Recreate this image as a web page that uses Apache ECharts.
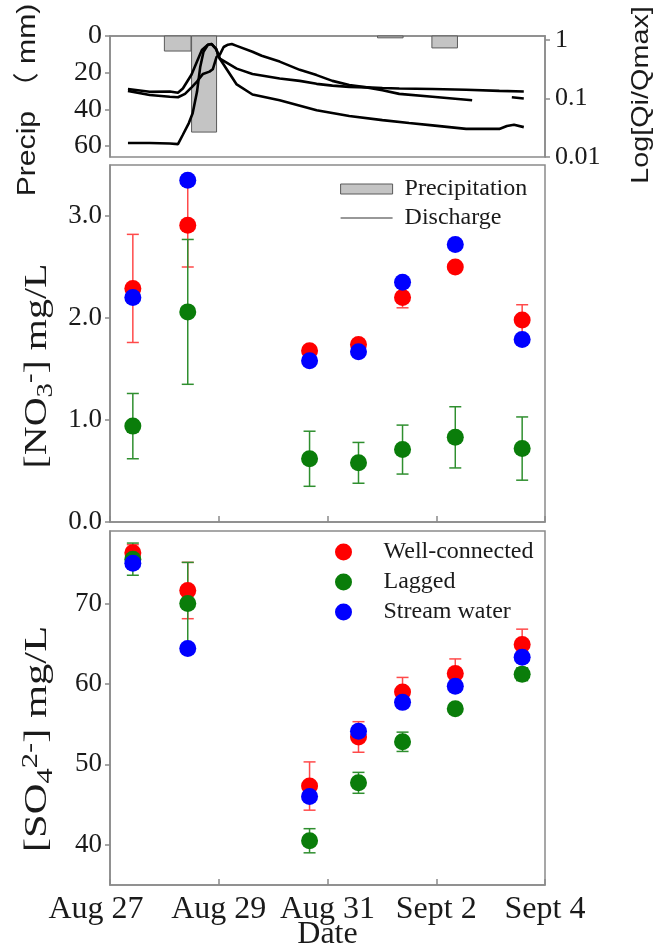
<!DOCTYPE html>
<html>
<head>
<meta charset="utf-8">
<script src="https://cdn.jsdelivr.net/npm/echarts@6/dist/echarts.min.js"></script>
<style>
  html, body { margin: 0; padding: 0; background: #fff; }
  #chart { width: 654px; height: 949px; }
</style>
</head>
<body>
<div id="chart"></div>
<script>
// ---- data (time in days after Aug 27 00:00) ----
const sampleDays = [0.42, 1.43, 3.67, 4.57, 5.38, 6.35, 7.58];
const dateTickLabels = ['Aug 27', 'Aug 29', 'Aug 31', 'Sept 2', 'Sept 4'];

// nitrate, mg/L
const no3Well = [2.29, 2.91, 1.68, 1.74, 2.20, 2.50, 1.98];
const no3WellErr = [0.53, 0.41, 0.04, 0.04, 0.10, 0.04, 0.15];
const no3Lagged = [0.94, 2.06, 0.62, 0.58, 0.71, 0.83, 0.72];
const no3LaggedErr = [0.32, 0.71, 0.27, 0.20, 0.24, 0.30, 0.31];
const no3Stream = [2.20, 3.35, 1.58, 1.67, 2.35, 2.72, 1.79];

// sulfate, mg/L
const so4Well = [76.3, 71.6, 47.3, 53.4, 59.0, 61.3, 64.9];
const so4WellErr = [1.0, 3.5, 3.0, 1.9, 1.8, 1.8, 1.9];
const so4Lagged = [75.5, 70.0, 40.5, 47.7, 52.8, 56.9, 61.2];
const so4LaggedErr = [2.0, 5.1, 1.5, 1.3, 1.2, 0.6, 0.8];
const so4Stream = [75.0, 64.4, 46.0, 54.1, 57.7, 59.7, 63.3];

// precipitation totals per interval, mm
const precipStart = [1.00, 1.50, 4.92, 5.92];
const precipEnd = [1.49, 1.96, 5.39, 6.39];
const precipMm = [8.2, 52.4, 1.0, 6.5];

// normalised discharge Qi/Qmax, [day, ratio]
const dischargeA = [
  [0.33, 0.0174], [0.73, 0.0174], [1.10, 0.0170], [1.25, 0.0166], [1.34, 0.024],
  [1.45, 0.038], [1.52, 0.056], [1.60, 0.13], [1.66, 0.35], [1.72, 0.63],
  [1.80, 0.83], [1.87, 0.851], [1.95, 0.708], [2.02, 0.479], [2.33, 0.174],
  [2.62, 0.117], [3.12, 0.0933], [3.80, 0.0631], [4.40, 0.0501], [5.01, 0.0427],
  [5.50, 0.038], [5.93, 0.0347], [6.55, 0.0302], [7.16, 0.0302], [7.30, 0.0339],
  [7.43, 0.0355], [7.61, 0.0324]
];
const dischargeB = [
  [0.33, 0.145], [0.73, 0.130], [1.10, 0.132], [1.25, 0.125], [1.34, 0.148],
  [1.50, 0.257], [1.60, 0.427], [1.69, 0.676], [1.80, 0.832], [1.87, 0.851],
  [1.95, 0.708], [2.02, 0.479], [2.33, 0.324], [2.62, 0.263], [3.12, 0.219],
  [3.49, 0.200], [3.80, 0.178], [4.09, 0.166], [4.40, 0.158], [4.72, 0.155],
  [5.01, 0.151], [5.32, 0.148], [5.93, 0.145], [6.55, 0.141], [7.16, 0.135],
  [7.61, 0.132]
];
const dischargeC = [
  [0.33, 0.135], [0.73, 0.115], [1.10, 0.107], [1.25, 0.105], [1.38, 0.120],
  [1.50, 0.155], [1.60, 0.195], [1.71, 0.263], [1.83, 0.288], [1.89, 0.316],
  [1.96, 0.513], [2.02, 0.562], [2.09, 0.759], [2.17, 0.832], [2.24, 0.851],
  [2.33, 0.794], [2.62, 0.631], [2.79, 0.537], [3.12, 0.427], [3.49, 0.309],
  [3.80, 0.251], [4.09, 0.200], [4.40, 0.170], [4.72, 0.155], [5.01, 0.138],
  [5.32, 0.120], [5.93, 0.107], [6.66, 0.0933], [7.00, null], [7.39, 0.105],
  [7.61, 0.100]
];

// ---- styling ----
const SERIF = "'Liberation Serif', 'DejaVu Serif', serif";
const SANS = "'Liberation Sans', Arial, 'Noto Sans CJK SC', sans-serif";
const FRAME = '#8a8a8a';
const INK = '#1a1a1a';
const RED = '#ff0000', GREEN = '#0a7d0a', BLUE = '#0000ff';
const RED_BAR = '#ff4a4a', GREEN_BAR = '#2f8f2f';

const chart = echarts.init(document.getElementById('chart'));

function pairs(values) {
  return sampleDays.map((d, i) => [d, values[i]]);
}

// vertical error bar with caps, built from the axis coordinate system
function errorBars(name, values, errs, color, axisIdx) {
  return {
    type: 'custom',
    name: name,
    xAxisIndex: axisIdx,
    yAxisIndex: axisIdx + 1,
    silent: true,
    z: 1,
    encode: { x: 0, y: [1, 2] },
    data: sampleDays.map((d, i) => [d, values[i] - errs[i], values[i] + errs[i]]),
    renderItem(params, api) {
      const lo = api.coord([api.value(0), api.value(1)]);
      const hi = api.coord([api.value(0), api.value(2)]);
      const hw = 6;
      const style = { stroke: color, lineWidth: 1.5 };
      return {
        type: 'group',
        children: [
          { type: 'line', shape: { x1: lo[0], y1: lo[1], x2: hi[0], y2: hi[1] }, style },
          { type: 'line', shape: { x1: lo[0] - hw, y1: lo[1], x2: lo[0] + hw, y2: lo[1] }, style },
          { type: 'line', shape: { x1: hi[0] - hw, y1: hi[1], x2: hi[0] + hw, y2: hi[1] }, style }
        ]
      };
    }
  };
}

function points(name, values, color, axisIdx) {
  return {
    type: 'scatter',
    name: name,
    xAxisIndex: axisIdx,
    yAxisIndex: axisIdx + 1,
    symbol: 'circle',
    symbolSize: 17,
    z: 2,
    itemStyle: { color: color, opacity: 1 },
    data: pairs(values)
  };
}

function dischargeLine(data) {
  return {
    type: 'line',
    name: 'Discharge',
    xAxisIndex: 0,
    yAxisIndex: 1,
    symbol: 'none',
    connectNulls: false,
    itemStyle: { color: '#000' },
    lineStyle: { color: '#000', width: 2.6 },
    z: 3,
    data: data
  };
}

const frameLine = { show: true, lineStyle: { color: FRAME, width: 1.5 } };
const gridBase = {
  left: 110, right: 109, show: true, borderColor: FRAME, borderWidth: 1.5,
  backgroundColor: 'transparent', containLabel: false, outerBoundsMode: 'none'
};
const innerTick = { show: true, inside: true, length: 6, lineStyle: { color: FRAME, width: 1.5 } };

const option = {
  animation: false,
  backgroundColor: '#fff',
  grid: [
    Object.assign({ top: 36, height: 121 }, gridBase),
    Object.assign({ top: 165, height: 357 }, gridBase),
    Object.assign({ top: 531, height: 354 }, gridBase)
  ],
  xAxis: [
    { type: 'value', gridIndex: 0, min: 0, max: 8, interval: 2,
      axisLine: frameLine, axisTick: { show: false }, axisLabel: { show: false }, splitLine: { show: false } },
    { type: 'value', gridIndex: 1, min: 0, max: 8, interval: 2,
      axisLine: frameLine, axisTick: innerTick, axisLabel: { show: false }, splitLine: { show: false } },
    { type: 'value', gridIndex: 2, min: 0, max: 8, interval: 2,
      axisLine: frameLine, axisTick: innerTick,
      axisLabel: {
        show: true, margin: 9, color: INK, fontFamily: SERIF, fontSize: 32,
        formatter: v => {
          const label = dateTickLabels[Math.round(v / 2)];
          return v === 0 ? '{first|' + label + '}' : label;
        },
        rich: { first: { fontFamily: SERIF, fontSize: 32, color: INK, padding: [0, 28, 0, 0] } }
      },
      splitLine: { show: false },
      name: 'Date', nameLocation: 'middle', nameGap: 34, nameMoveOverlap: false,
      nameTextStyle: { color: INK, fontFamily: SERIF, fontSize: 32 } }
  ],
  yAxis: [
    { type: 'value', gridIndex: 0, inverse: true, min: 0, max: 66, position: 'left',
      axisLine: frameLine,
      axisTick: { show: true, length: 5, lineStyle: { color: FRAME, width: 1.5 }, customValues: [0, 20, 40, 60] },
      axisLabel: { margin: 8, color: INK, fontFamily: SERIF, fontSize: 28, customValues: [0, 20, 40, 60] },
      splitLine: { show: false } },
    { type: 'log', logBase: 10, gridIndex: 0, min: 0.01, max: 1.17, position: 'right',
      axisLine: frameLine,
      axisTick: { show: true, length: 5, lineStyle: { color: FRAME, width: 1.5 } },
      axisLabel: { margin: 10, color: INK, fontFamily: SERIF, fontSize: 26, showMaxLabel: false,
        formatter: v => String(+v.toPrecision(2)) },
      splitLine: { show: false } },
    { type: 'value', gridIndex: 1, min: 0, max: 3.5, position: 'left',
      axisLine: frameLine,
      axisTick: { show: true, length: 5, lineStyle: { color: FRAME, width: 1.5 }, customValues: [0, 1, 2, 3] },
      axisLabel: { margin: 8, color: INK, fontFamily: SERIF, fontSize: 27,
        customValues: [0, 1, 2, 3], formatter: v => v.toFixed(1) },
      splitLine: { show: false } },
    { type: 'value', gridIndex: 2, min: 35, max: 79, position: 'left',
      axisLine: frameLine,
      axisTick: { show: true, length: 5, lineStyle: { color: FRAME, width: 1.5 }, customValues: [40, 50, 60, 70] },
      axisLabel: { margin: 8, color: INK, fontFamily: SERIF, fontSize: 27, customValues: [40, 50, 60, 70] },
      splitLine: { show: false } }
  ],
  legend: [
    {
      orient: 'vertical', left: 335, top: 172, itemWidth: 52, itemHeight: 10, itemGap: 5,
      selectedMode: false,
      textStyle: { fontFamily: SERIF, fontSize: 24, color: INK, padding: [0, 0, 0, 7] },
      data: [
        { name: 'Precipitation', icon: 'rect', itemStyle: { color: '#c4c4c4', borderColor: '#5a5a5a', borderWidth: 1 } },
        { name: 'Discharge', itemStyle: { color: 'rgba(0,0,0,0)', borderColor: 'rgba(0,0,0,0)', borderWidth: 0 },
          lineStyle: { color: '#333', width: 1.2 } }
      ]
    },
    {
      orient: 'vertical', left: 330, top: 535, itemWidth: 70, itemHeight: 17, itemGap: 6,
      selectedMode: false,
      textStyle: { fontFamily: SERIF, fontSize: 24, color: INK },
      data: ['Well-connected', 'Lagged', 'Stream water']
    }
  ],
  graphic: [
    { type: 'text', x: 28, y: 100, rotation: Math.PI / 2, scaleX: 1.16,
      style: { text: 'Precip （ mm)', fontFamily: SANS, fontSize: 26, fill: INK,
        align: 'center', verticalAlign: 'middle', textAlign: 'center', textVerticalAlign: 'middle' } },
    { type: 'text', x: 641, y: 95, rotation: Math.PI / 2, scaleX: 1.2,
      style: { text: 'Log[Qi/Qmax]', fontFamily: SANS, fontSize: 24, fill: INK,
        align: 'center', verticalAlign: 'middle', textAlign: 'center', textVerticalAlign: 'middle' } },
    { type: 'text', x: 38, y: 366, rotation: Math.PI / 2, scaleX: 1.25,
      style: { text: '{m|[NO}{sub|3}{sup|-}{m|] mg/L}', fill: INK,
        align: 'center', verticalAlign: 'middle', textAlign: 'center', textVerticalAlign: 'middle',
        rich: {
          m: { fontFamily: SERIF, fontSize: 32, lineHeight: 38, fill: INK },
          sub: { fontFamily: SERIF, fontSize: 23, lineHeight: 23, verticalAlign: 'bottom', fill: INK },
          sup: { fontFamily: SERIF, fontSize: 23, lineHeight: 23, verticalAlign: 'top', fill: INK }
        } } },
    { type: 'text', x: 38, y: 739, rotation: Math.PI / 2, scaleX: 1.33,
      style: { text: '{m|[SO}{sub|4}{sup|2-}{m|] mg/L}', fill: INK,
        align: 'center', verticalAlign: 'middle', textAlign: 'center', textVerticalAlign: 'middle',
        rich: {
          m: { fontFamily: SERIF, fontSize: 32, lineHeight: 38, fill: INK },
          sub: { fontFamily: SERIF, fontSize: 23, lineHeight: 23, verticalAlign: 'bottom', fill: INK },
          sup: { fontFamily: SERIF, fontSize: 23, lineHeight: 23, verticalAlign: 'top', fill: INK }
        } } }
  ],
  series: [
    {
      type: 'custom',
      name: 'Precipitation',
      xAxisIndex: 0,
      yAxisIndex: 0,
      z: 1,
      encode: { x: [0, 1], y: 2 },
      data: precipMm.map((mm, i) => [precipStart[i], precipEnd[i], mm]),
      renderItem(params, api) {
        const a = api.coord([api.value(0), 0]);
        const b = api.coord([api.value(1), api.value(2)]);
        return {
          type: 'rect',
          shape: { x: a[0], y: Math.min(a[1], b[1]), width: b[0] - a[0], height: Math.abs(b[1] - a[1]) },
          style: { fill: '#c4c4c4', stroke: '#5a5a5a', lineWidth: 1 }
        };
      }
    },
    dischargeLine(dischargeA),
    dischargeLine(dischargeB),
    dischargeLine(dischargeC),

    errorBars('no3 well err', no3Well, no3WellErr, RED_BAR, 1),
    errorBars('no3 lagged err', no3Lagged, no3LaggedErr, GREEN_BAR, 1),
    points('Well-connected', no3Well, RED, 1),
    points('Lagged', no3Lagged, GREEN, 1),
    points('Stream water', no3Stream, BLUE, 1),

    errorBars('so4 well err', so4Well, so4WellErr, RED_BAR, 2),
    errorBars('so4 lagged err', so4Lagged, so4LaggedErr, GREEN_BAR, 2),
    points('Well-connected', so4Well, RED, 2),
    points('Lagged', so4Lagged, GREEN, 2),
    points('Stream water', so4Stream, BLUE, 2)
  ]
};

// y axes: 0 and 1 belong to the top grid, 2 to the middle grid, 3 to the bottom grid
option.series.forEach(s => {
  if (s.xAxisIndex === 1) s.yAxisIndex = 2;
  if (s.xAxisIndex === 2) s.yAxisIndex = 3;
});

chart.setOption(option);
</script>
</body>
</html>
